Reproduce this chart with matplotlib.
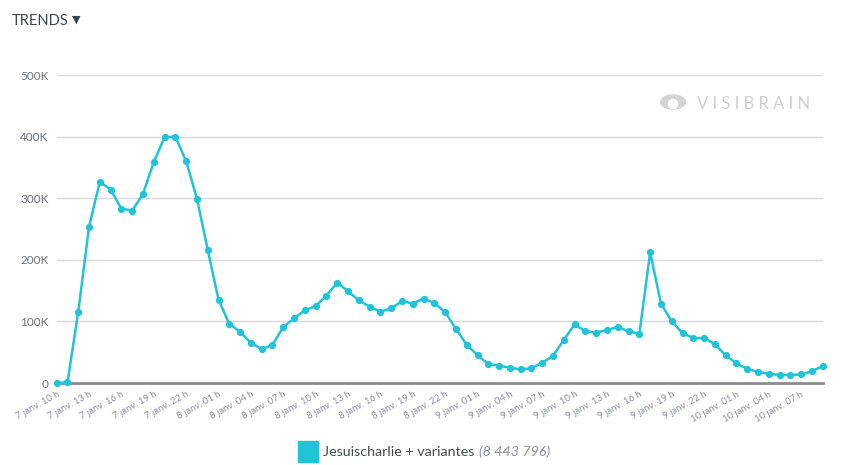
import matplotlib.pyplot as plt
from matplotlib.patches import Rectangle, Ellipse, Circle

plt.rcParams['font.family'] = ['Lato', 'DejaVu Sans']

# hourly counts, 7 janv. 10 h -> 10 janv. 09 h
counts = [0, 1000, 116000, 254000, 327000, 314000, 283000, 280000, 307000, 359000,
          399000, 400000, 360000, 299000, 216000, 135000, 96000, 83000, 65000, 55000,
          62000, 91000, 105000, 118000, 125000, 142000, 163000, 149000, 134000, 124000,
          116000, 121000, 133000, 129000, 137000, 130000, 115000, 88000, 62000, 45000,
          31000, 28000, 25000, 22000, 24000, 33000, 44000, 70000, 95000, 84000,
          82000, 86000, 91000, 84000, 80000, 212000, 129000, 100000, 81000, 73000,
          73000, 63000, 45000, 32000, 23000, 18000, 15000, 13000, 13000, 14000,
          19000, 28000]
tick_labels = ['7 janv. 10 h', '7 janv. 13 h', '7 janv. 16 h', '7 janv. 19 h', '7 janv. 22 h',
               '8 janv. 01 h', '8 janv. 04 h', '8 janv. 07 h', '8 janv. 10 h', '8 janv. 13 h',
               '8 janv. 16 h', '8 janv. 19 h', '8 janv. 22 h', '9 janv. 01 h', '9 janv. 04 h',
               '9 janv. 07 h', '9 janv. 10 h', '9 janv. 13 h', '9 janv. 16 h', '9 janv. 19 h',
               '9 janv. 22 h', '10 janv. 01 h', '10 janv. 04 h', '10 janv. 07 h']
y_ticks = [0, 100000, 200000, 300000, 400000, 500000]
y_labels = ['0', '100K', '200K', '300K', '400K', '500K']
series_name = 'Jesuischarlie + variantes'
total = '(8 443 796)'

line_col = '#22c3d8'
hours = list(range(len(counts)))

fig = plt.figure(figsize=(8.5, 4.65), dpi=100)

# watermark layer (pixel coords), behind the chart
ax_w = fig.add_axes([0, 0, 1, 1])
ax_w.set_xlim(0, 850)
ax_w.set_ylim(465, 0)
ax_w.axis('off')
ax_w.add_patch(Ellipse((673, 102), 25, 14, color='#d4d4d4'))
ax_w.add_patch(Circle((673, 104), 4.5, color='white'))
ax_w.text(697, 104, 'V I S I B R A I N', fontsize=12, color='#cfcfcf', va='center')

ax = fig.add_axes([0.0667, 0.1763, 0.9013, 0.6624])
ax.set_facecolor('none')
ax.plot(hours, counts, color=line_col, lw=1.8, marker='o', ms=4.2, zorder=3, clip_on=False)

ax.set_xlim(0, len(counts) - 1)
ax.set_ylim(0, 500000)
ax.set_yticks(y_ticks)
ax.set_yticklabels(y_labels, fontsize=8.5, color='#6b7380')
ax.set_xticks(hours[::3])
ax.set_xticklabels(tick_labels, fontsize=6.8, color='#8a8fa3', rotation=29,
                   ha='right', rotation_mode='anchor')
ax.tick_params(length=0, pad=6)
ax.tick_params(axis='x', pad=5)
ax.grid(axis='y', color='#d9d9d9', lw=1)
ax.set_axisbelow(True)
for s in ['top', 'right', 'left']:
    ax.spines[s].set_visible(False)
ax.spines['bottom'].set_color('#8c8c8c')
ax.spines['bottom'].set_linewidth(2)

# header
fig.text(0.014, 0.955, 'TRENDS', fontsize=10.5, color='#37474f', va='center')
fig.text(72 / 850, 0.957, '\u25bc', fontsize=8, color='#37474f', va='center',
         family=['DejaVu Sans'])

# legend
fig.patches.append(Rectangle((298 / 850, 1 - 462 / 465), 20 / 850, 21 / 465,
                             transform=fig.transFigure, color=line_col))
t1 = fig.text(323 / 850, 1 - 452 / 465, series_name, fontsize=10.3, color='#404b55',
              va='center')
fig.canvas.draw()
bb = t1.get_window_extent()
fig.text(bb.x1 / 850 + 0.005, 1 - 452 / 465, total, fontsize=10.3, color='#8a8fa3',
         style='italic', va='center')

fig.savefig('out.png', dpi=100)
